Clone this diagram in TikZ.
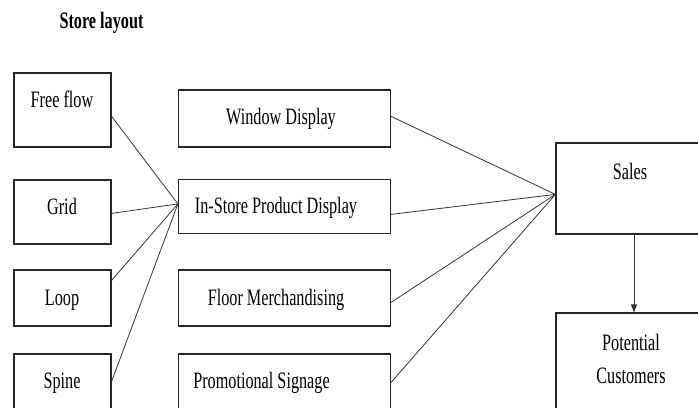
\documentclass[tikz,border=0pt]{standalone}
\usepackage{fontspec}
\setmainfont{Liberation Serif}[FakeStretch=0.69]
\usetikzlibrary{calc,arrows.meta}
\begin{document}
\begin{tikzpicture}[x=1pt,y=-1pt,
  box/.style={draw=black!85, line width=1.2pt, inner sep=0pt},
  txt/.style={font=\fontsize{23.5}{33}\selectfont, inner sep=0pt, text height=15.5pt, text depth=0pt},
  mtxt/.style={font=\fontsize{23.5}{33}\selectfont, inner sep=0pt, align=center, anchor=north},
  link/.style={draw=black!80, line width=0.8pt}]
\clip (0,0) rectangle (698,407);
% title
\node[txt, font=\fontsize{23.5}{33}\selectfont\bfseries] (title) at (101.5,21) {Store layout};
% left column
\node[box, minimum width=97pt, minimum height=74pt] (ff) at (62.5,110) {};
\node[box, minimum width=97pt, minimum height=64pt] (grid) at (62.5,212) {};
\node[box, minimum width=97pt, minimum height=56pt] (loop) at (62.5,298) {};
\node[box, minimum width=97pt, minimum height=66pt] (spine) at (62.5,387) {};
\node[txt] (fft) at (62,100) {Free flow};
\node[txt] (gridt) at (62,207) {Grid};
\node[txt] (loopt) at (62,298) {Loop};
\node[txt] (spinet) at (62,381) {Spine};
% middle column
\node[box, minimum width=212pt, minimum height=57pt] (wd) at (284.5,118.5) {};
\node[box, minimum width=212pt, minimum height=54pt] (isp) at (284.5,206.5) {};
\node[box, minimum width=212pt, minimum height=56pt] (fm) at (284.5,298) {};
\node[box, minimum width=212pt, minimum height=66pt] (ps) at (284.5,387) {};
\node[txt] (wdt) at (281,117) {Window Display};
\node[txt] (ispt) at (276,206) {In-Store Product Display};
\node[txt] (fmt) at (276,298) {Floor Merchandising};
\node[txt] (pst) at (261.5,381) {Promotional Signage};
% right column
\node[box, minimum width=156pt, minimum height=91pt] (sales) at (634,188.5) {};
\node[box, minimum width=156pt, minimum height=117pt] (pc) at (634,371.5) {};
\node[txt] (salest) at (630,171.5) {Sales};
\node[mtxt] (pct) at (631,333.5) {Potential\\Customers};
% connectors
\draw[link] ($(ff.north east)+(0,44)$) -- ($(isp.north west)+(0,25)$);
\draw[link] ($(grid.north east)+(0,34)$) -- ($(isp.north west)+(0,25)$);
\draw[link] ($(loop.north east)+(0,11)$) -- ($(isp.north west)+(0,25)$);
\draw[link] ($(spine.north east)+(0,28)$) -- ($(isp.north west)+(0,25)$);
\draw[link] ($(wd.north east)+(0,27)$) -- ($(sales.north west)+(0,52)$);
\draw[link] ($(isp.north east)+(0,35.5)$) -- ($(sales.north west)+(0,52)$);
\draw[link] ($(fm.north east)+(0,33)$) -- ($(sales.north west)+(0,52)$);
\draw[link] ($(ps.north east)+(0,29)$) -- ($(sales.north west)+(0,52)$);
\draw[link, -{Triangle[length=8pt,width=6pt]}] (sales.south) -- (pc.north);
\end{tikzpicture}
\end{document}
